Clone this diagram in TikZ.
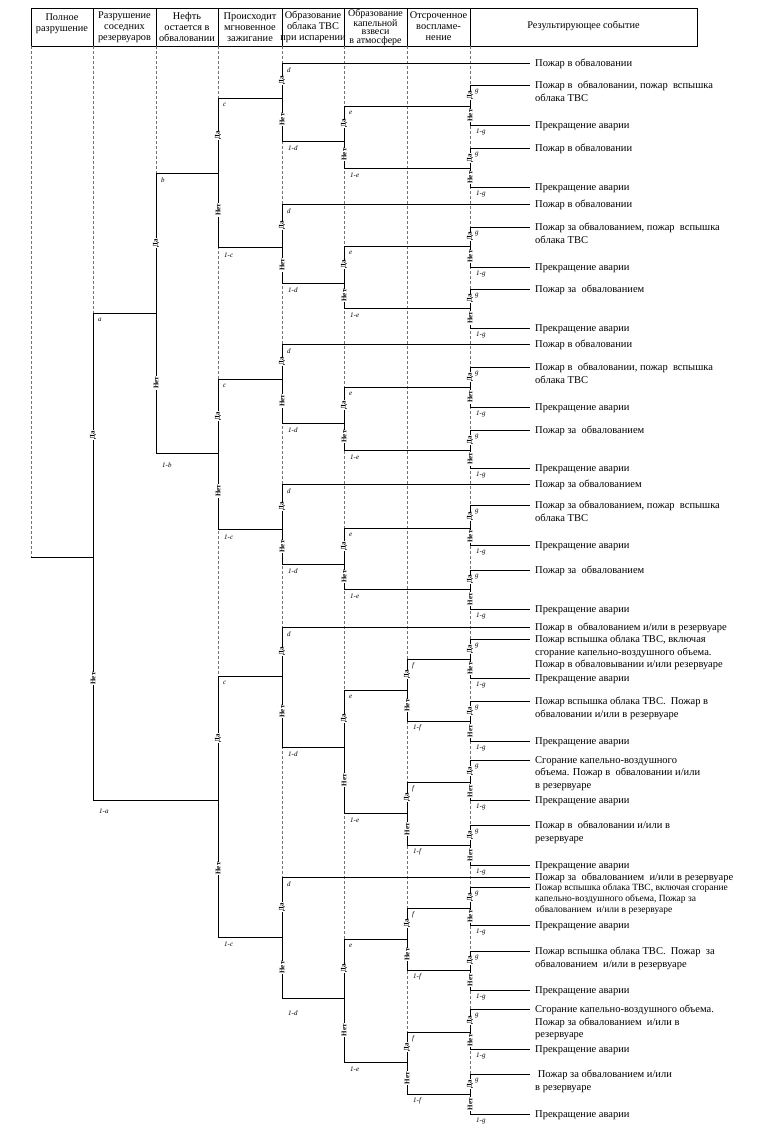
\documentclass[tikz,border=0pt]{standalone}
\usepackage{fontspec}
\setmainfont{Liberation Serif}
\usetikzlibrary{calc}
\newcommand{\evn}[7]{%
  \coordinate (#1-t) at (#2,#3);
  \coordinate (#1-m) at (#2,#4);
  \coordinate (#1-b) at (#2,#5);
  \draw[tree] (#1-t) -- (#1-b);
  \node[yn] (#1-da) at ($(#1-t)!0.5!(#1-m)$) {Да};
  \node[yn] (#1-net) at ($(#1-m)!0.5!(#1-b)$) {Нет};
  \node[lbl] (#1-p) at ($(#1-t)+(5,7)$) {#6};
  \node[lbl] (#1-q) at ($(#1-b)+(6,#7)$) {1-#6};
}
\newcommand{\res}[4][]{%
  \draw[tree] (#2) -- (#2 -| endx) coordinate (#3-e);
  \node[outc,#1] (#3) at ([xshift=5pt,yshift=4pt]#3-e) {#4};
}
\begin{document}
\begin{tikzpicture}[x=1pt,y=-1pt,
  tree/.style={line width=0.75pt},
  guide/.style={densely dashed, black!55, line width=0.4pt},
  yn/.style={font=\fontsize{7}{8}\selectfont\bfseries, rotate=90, fill=white, inner sep=0.6pt},
  lbl/.style={font=\fontsize{7}{8}\selectfont\itshape, inner sep=0pt, anchor=west},
  outc/.style={font=\fontsize{10.5}{12.5}\selectfont, align=left, anchor=north west, inner sep=0pt},
  smallout/.style={font=\fontsize{9.5}{11}\selectfont},
  hdr/.style={font=\fontsize{10.3}{10.8}\selectfont, align=center, inner sep=0pt},
]
\useasboundingbox (0,0) rectangle (782,1131);
\coordinate (endx) at (530,0);

% header
\draw[line width=0.6pt] (31,8) rectangle (697,46);
\foreach \xx in {93,156,218,282,344,407,470} \draw[line width=0.6pt] (\xx,8) -- (\xx,46);
\node[hdr] (h1) at (62,24) {Полное\\разрушение};
\node[hdr] (h2) at (124.5,27) {Разрушение\\соседних\\резервуаров};
\node[hdr] (h3) at (187,27) {Нефть\\остается в\\обваловании};
\node[hdr] (h4) at (250,27) {Происходит\\мгновенное\\зажигание};
\node[hdr] (h5) at (313,27) {Образование\\облака ТВС\\при испарении};
\node[hdr,font=\fontsize{10}{8.7}\selectfont] (h6) at (375.5,27.5) {Образование\\капельной\\взвеси\\в атмосфере};
\node[hdr] (h7) at (438.5,26) {Отсроченное\\воспламе-\\нение};
\node[hdr] (h8) at (583.5,26) {Результирующее событие};

% guide lines
\draw[guide] (31,46) -- (31,557);
\draw[guide] (93,46) -- (93,313);
\draw[guide] (156,46) -- (156,173);
\draw[guide] (218,46) -- (218,937);
\draw[guide] (282,46) -- (282,998);
\draw[guide] (344,46) -- (344,1062);
\draw[guide] (407,46) -- (407,1094);
\draw[guide] (470,46) -- (470,1114);

% tree nodes
\evn{a}{93}{313}{557}{800}{a}{11}
\evn{b}{156}{173}{313}{453}{b}{12}
\evn{c1}{218}{98}{173}{247}{c}{8}
\evn{c2}{218}{379}{453}{529}{c}{8}
\evn{c3}{218}{676}{800}{937}{c}{7}
\evn{d1}{282}{63}{98}{141}{d}{7}
\evn{d2}{282}{204}{247}{283}{d}{7}
\evn{d3}{282}{344}{379}{423}{d}{7}
\evn{d4}{282}{484}{529}{564}{d}{7}
\evn{d5}{282}{627}{676}{747}{d}{7}
\evn{d6}{282}{877}{937}{998}{d}{15}
\evn{e1}{344}{106}{141}{168}{e}{7}
\evn{e2}{344}{246}{283}{308}{e}{7}
\evn{e3}{344}{387}{423}{450}{e}{7}
\evn{e4}{344}{528}{564}{589}{e}{7}
\evn{e5}{344}{690}{747}{813}{e}{7}
\evn{e6}{344}{939}{998}{1062}{e}{7}
\evn{f1}{407}{659}{690}{721}{f}{7}
\evn{f2}{407}{782}{813}{845}{f}{7}
\evn{f3}{407}{908}{939}{970}{f}{7}
\evn{f4}{407}{1032}{1062}{1094}{f}{7}
\evn{g1}{470}{85}{106}{125}{g}{7}
\evn{g2}{470}{148}{168}{187}{g}{7}
\evn{g3}{470}{227}{246}{267}{g}{7}
\evn{g4}{470}{289}{308}{328}{g}{7}
\evn{g5}{470}{367}{387}{407}{g}{7}
\evn{g6}{470}{430}{450}{468}{g}{7}
\evn{g7}{470}{505}{528}{545}{g}{7}
\evn{g8}{470}{570}{589}{609}{g}{7}
\evn{g9}{470}{639}{659}{678}{g}{7}
\evn{g10}{470}{701}{721}{741}{g}{7}
\evn{g11}{470}{760}{782}{800}{g}{7}
\evn{g12}{470}{825}{845}{865}{g}{7}
\evn{g13}{470}{887}{908}{925}{g}{7}
\evn{g14}{470}{951}{970}{990}{g}{7}
\evn{g15}{470}{1009}{1032}{1049}{g}{7}
\evn{g16}{470}{1074}{1094}{1114}{g}{7}

% root
\coordinate (root) at (31,557);
\draw[tree] (root) -- (a-m);
% branches
\draw[tree] (a-t) -- (b-m);
\draw[tree] (a-b) -- (c3-m);
\draw[tree] (b-t) -- (c1-m);
\draw[tree] (b-b) -- (c2-m);
\draw[tree] (c1-t) -- (d1-m);
\draw[tree] (c1-b) -- (d2-m);
\draw[tree] (c2-t) -- (d3-m);
\draw[tree] (c2-b) -- (d4-m);
\draw[tree] (c3-t) -- (d5-m);
\draw[tree] (c3-b) -- (d6-m);
\draw[tree] (d1-b) -- (e1-m);
\draw[tree] (d2-b) -- (e2-m);
\draw[tree] (d3-b) -- (e3-m);
\draw[tree] (d4-b) -- (e4-m);
\draw[tree] (d5-b) -- (e5-m);
\draw[tree] (d6-b) -- (e6-m);
\draw[tree] (e1-t) -- (g1-m);
\draw[tree] (e1-b) -- (g2-m);
\draw[tree] (e2-t) -- (g3-m);
\draw[tree] (e2-b) -- (g4-m);
\draw[tree] (e3-t) -- (g5-m);
\draw[tree] (e3-b) -- (g6-m);
\draw[tree] (e4-t) -- (g7-m);
\draw[tree] (e4-b) -- (g8-m);
\draw[tree] (e5-t) -- (f1-m);
\draw[tree] (e5-b) -- (f2-m);
\draw[tree] (e6-t) -- (f3-m);
\draw[tree] (e6-b) -- (f4-m);
\draw[tree] (f1-t) -- (g9-m);
\draw[tree] (f1-b) -- (g10-m);
\draw[tree] (f2-t) -- (g11-m);
\draw[tree] (f2-b) -- (g12-m);
\draw[tree] (f3-t) -- (g13-m);
\draw[tree] (f3-b) -- (g14-m);
\draw[tree] (f4-t) -- (g15-m);
\draw[tree] (f4-b) -- (g16-m);

% outcomes
\res{d1-t}{o1}{Пожар в обваловании}
\res{g1-t}{o2}{Пожар в ~обваловании, пожар ~вспышка\\облака ТВС}
\res{g1-b}{o3}{Прекращение аварии}
\res{g2-t}{o4}{Пожар в обваловании}
\res{g2-b}{o5}{Прекращение аварии}
\res{d2-t}{o6}{Пожар в обваловании}
\res{g3-t}{o7}{Пожар за обвалованием, пожар ~вспышка\\облака ТВС}
\res{g3-b}{o8}{Прекращение аварии}
\res{g4-t}{o9}{Пожар за ~обвалованием}
\res{g4-b}{o10}{Прекращение аварии}
\res{d3-t}{o11}{Пожар в обваловании}
\res{g5-t}{o12}{Пожар в ~обваловании, пожар ~вспышка\\облака ТВС}
\res{g5-b}{o13}{Прекращение аварии}
\res{g6-t}{o14}{Пожар за ~обвалованием}
\res{g6-b}{o15}{Прекращение аварии}
\res{d4-t}{o16}{Пожар за обвалованием}
\res{g7-t}{o17}{Пожар за обвалованием, пожар ~вспышка\\облака ТВС}
\res{g7-b}{o18}{Прекращение аварии}
\res{g8-t}{o19}{Пожар за ~обвалованием}
\res{g8-b}{o20}{Прекращение аварии}
\res{d5-t}{o21}{Пожар в ~обвалованием и/или в резервуаре}
\res{g9-t}{o22}{Пожар вспышка облака ТВС, включая\\сгорание капельно-воздушного объема.\\Пожар в обваловывании и/или резервуаре}
\res{g9-b}{o23}{Прекращение аварии}
\res{g10-t}{o24}{Пожар вспышка облака ТВС. ~Пожар в\\обваловании и/или в резервуаре}
\res{g10-b}{o25}{Прекращение аварии}
\res{g11-t}{o26}{Сгорание капельно-воздушного\\объема. Пожар в ~обваловании и/или\\в резервуаре}
\res{g11-b}{o27}{Прекращение аварии}
\res{g12-t}{o28}{Пожар в ~обваловании и/или в\\резервуаре}
\res{g12-b}{o29}{Прекращение аварии}
\res{d6-t}{o30}{Пожар за ~обвалованием ~и/или в резервуаре}
\res[smallout]{g13-t}{o31}{Пожар вспышка облака ТВС, включая сгорание\\капельно-воздушного объема, Пожар за\\обвалованием ~и/или в резервуаре}
\res{g13-b}{o32}{Прекращение аварии}
\res{g14-t}{o33}{Пожар вспышка облака ТВС. ~Пожар ~за\\обвалованием ~и/или в резервуаре}
\res{g14-b}{o34}{Прекращение аварии}
\res{g15-t}{o35}{Сгорание капельно-воздушного объема.\\Пожар за обвалованием ~и/или в\\резервуаре}
\res{g15-b}{o36}{Прекращение аварии}
\res{g16-t}{o37}{~Пожар за обвалованием и/или\\в резервуаре}
\res{g16-b}{o38}{Прекращение аварии}
\end{tikzpicture}
\end{document}
